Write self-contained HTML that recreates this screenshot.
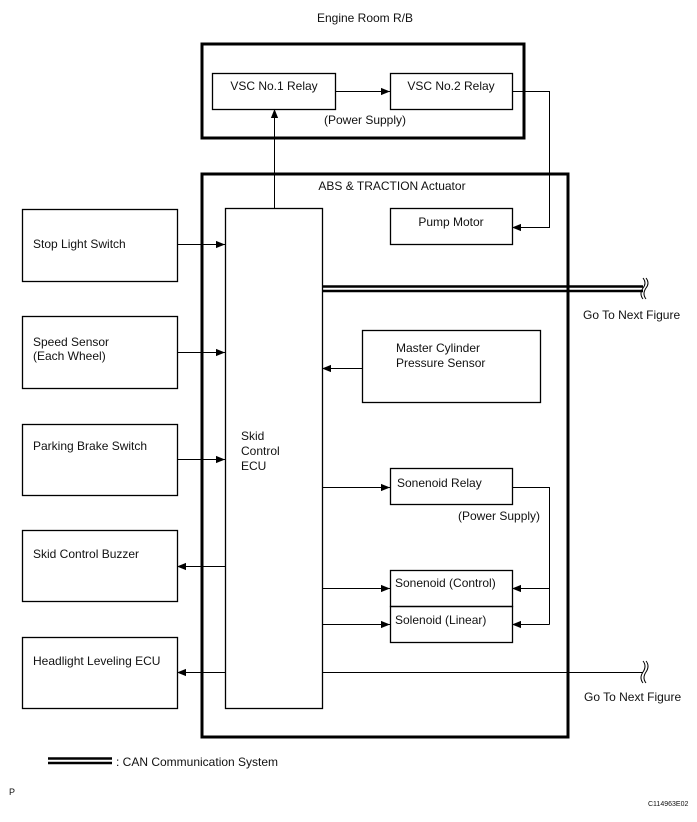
<!DOCTYPE html>
<html><head><style>
body{margin:0;background:#fff}
svg text{font-family:"Liberation Sans",sans-serif;font-size:12px;fill:#111}
</style></head><body>
<svg width="697" height="817" viewBox="0 0 697 817" xmlns="http://www.w3.org/2000/svg">
<defs><marker id="a" viewBox="0 0 10 10" refX="10" refY="5" markerWidth="9" markerHeight="9" markerUnits="userSpaceOnUse" orient="auto"><path d="M0,1 L10,5 L0,9 z" fill="#000"/></marker></defs>
<g fill="none" stroke="#000">
<rect x="202" y="44" width="322" height="94" stroke-width="3"/>
<rect x="202" y="174" width="366" height="563" stroke-width="3"/>
<g stroke-width="1.3">
<rect x="212.5" y="73.5" width="123" height="36"/>
<rect x="390.5" y="73.5" width="122" height="36"/>
<rect x="390.5" y="208.5" width="122" height="36"/>
<rect x="225.5" y="208.5" width="97" height="500"/>
<rect x="362.5" y="330.5" width="178" height="72"/>
<rect x="390.5" y="468.5" width="122" height="36"/>
<rect x="390.5" y="570.5" width="122" height="36"/>
<rect x="390.5" y="606.5" width="122" height="36"/>
<rect x="22.5" y="209.5" width="155" height="72"/>
<rect x="22.5" y="316.5" width="155" height="72"/>
<rect x="22.5" y="424.5" width="155" height="71"/>
<rect x="22.5" y="530.5" width="155" height="71"/>
<rect x="22.5" y="637.5" width="155" height="71"/>
</g>
<g stroke-width="1">
<line x1="335" y1="91.5" x2="390" y2="91.5" marker-end="url(#a)"/>
<polyline points="512,91.5 549.5,91.5 549.5,227.5 512,227.5" marker-end="url(#a)"/>
<line x1="274.5" y1="208" x2="274.5" y2="109" marker-end="url(#a)"/>
<line x1="177" y1="244.5" x2="225" y2="244.5" marker-end="url(#a)"/>
<line x1="177" y1="352.5" x2="225" y2="352.5" marker-end="url(#a)"/>
<line x1="177" y1="459.5" x2="225" y2="459.5" marker-end="url(#a)"/>
<line x1="225" y1="566.5" x2="177" y2="566.5" marker-end="url(#a)"/>
<line x1="225" y1="672.5" x2="177" y2="672.5" marker-end="url(#a)"/>
<line x1="362" y1="368.5" x2="322" y2="368.5" marker-end="url(#a)"/>
<line x1="322" y1="487.5" x2="390" y2="487.5" marker-end="url(#a)"/>
<line x1="322" y1="588.5" x2="390" y2="588.5" marker-end="url(#a)"/>
<line x1="322" y1="624.5" x2="390" y2="624.5" marker-end="url(#a)"/>
<polyline points="512,487.5 549.5,487.5 549.5,624.5"/>
<line x1="549.5" y1="588.5" x2="512" y2="588.5" marker-end="url(#a)"/>
<line x1="549.5" y1="624.5" x2="512" y2="624.5" marker-end="url(#a)"/>
<line x1="322" y1="672.5" x2="643" y2="672.5"/>
<path d="M643,661 q4,5 0,11 q-4,6 0,11 M646,661 q4,5 0,11 q-4,6 0,11"/>
<path d="M643,278 q4,5 0,10 q-4,6 0,11 M646,278 q4,5 0,10 q-4,6 0,11"/>
</g>
<line x1="322" y1="286.5" x2="643" y2="286.5" stroke-width="2.5"/>
<line x1="322" y1="291" x2="643" y2="291" stroke-width="2.5"/>
<line x1="48" y1="758.5" x2="112" y2="758.5" stroke-width="2.5"/>
<line x1="48" y1="763" x2="112" y2="763" stroke-width="2.5"/>
</g>
<text x="365" y="22" text-anchor="middle">Engine Room R/B</text>
<text x="274" y="90" text-anchor="middle">VSC No.1 Relay</text>
<text x="451" y="90" text-anchor="middle">VSC No.2 Relay</text>
<text x="365" y="124" text-anchor="middle">(Power Supply)</text>
<text x="392" y="190" text-anchor="middle">ABS &amp; TRACTION Actuator</text>
<text x="451" y="226" text-anchor="middle">Pump Motor</text>
<text x="583" y="319">Go To Next Figure</text>
<text x="396" y="352">Master Cylinder</text>
<text x="396" y="367">Pressure Sensor</text>
<text x="241" y="440">Skid</text>
<text x="241" y="455">Control</text>
<text x="241" y="470">ECU</text>
<text x="397" y="487">Sonenoid Relay</text>
<text x="458" y="520">(Power Supply)</text>
<text x="395" y="587">Sonenoid (Control)</text>
<text x="395" y="624">Solenoid (Linear)</text>
<text x="584" y="701">Go To Next Figure</text>
<text x="33" y="248">Stop Light Switch</text>
<text x="33" y="346">Speed Sensor</text>
<text x="33" y="360">(Each Wheel)</text>
<text x="33" y="450">Parking Brake Switch</text>
<text x="33" y="558">Skid Control Buzzer</text>
<text x="33" y="665">Headlight Leveling ECU</text>
<text x="116" y="766">: CAN Communication System</text>
<text x="9" y="795" style="font-size:9px">P</text>
<text x="648" y="806" style="font-size:7px">C114963E02</text>
</svg>
</body></html>
